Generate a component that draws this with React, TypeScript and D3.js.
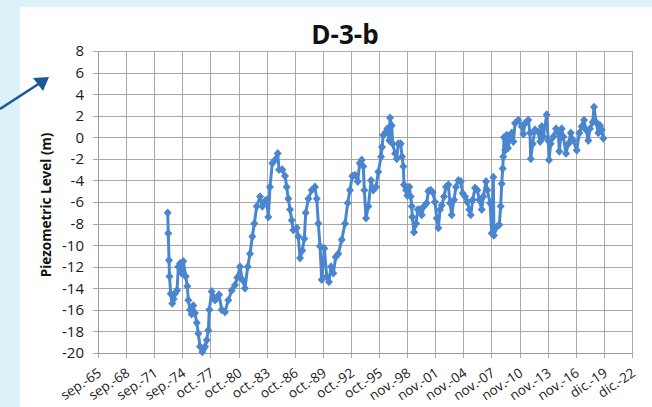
import React from 'react'
import * as d3 from 'd3'

// dates as decimal years, levels in m
const years = [
  1973.14, 1973.20, 1973.28, 1973.33, 1973.46, 1973.63, 1973.78, 1973.92, 1974.14, 1974.28,
  1974.46, 1974.64, 1974.81, 1975.07, 1975.24, 1975.35, 1975.53, 1975.70, 1975.88, 1976.06,
  1976.25, 1976.42, 1976.60, 1976.85, 1977.00, 1977.14, 1977.32, 1977.49, 1977.60, 1977.85,
  1978.03, 1978.21, 1978.43, 1978.64, 1978.93, 1979.28, 1979.63, 1980.00, 1980.35, 1980.60,
  1980.89, 1981.13, 1981.42, 1981.71, 1981.96, 1982.21, 1982.42, 1982.68, 1983.03, 1983.28,
  1983.57, 1983.75, 1983.92, 1984.10, 1984.35, 1984.64, 1984.93, 1985.07, 1985.42, 1985.71,
  1985.89, 1986.06, 1986.25, 1986.43, 1986.60, 1986.96, 1987.13, 1987.32, 1987.56, 1987.78,
  1987.93, 1988.21, 1988.57, 1988.92, 1989.11, 1989.28, 1989.46, 1989.64, 1989.92, 1990.18,
  1990.42, 1990.64, 1990.89, 1991.14, 1991.42, 1991.79, 1992.14, 1992.43, 1992.67, 1992.92,
  1993.21, 1993.50, 1993.71, 1993.93, 1994.10, 1994.21, 1994.39, 1994.64, 1994.93, 1995.17,
  1995.46, 1995.71, 1996.00, 1996.10, 1996.24, 1996.53, 1996.67, 1996.89, 1996.96, 1997.14,
  1997.25, 1997.50, 1997.68, 1997.85, 1998.11, 1998.25, 1998.39, 1998.46, 1998.68, 1998.82,
  1999.03, 1999.18, 1999.29, 1999.35, 1999.53, 1999.75, 1999.93, 2000.18, 2000.36, 2000.60,
  2000.89, 2001.07, 2001.32, 2001.54, 2001.78, 2001.97, 2002.14, 2002.32, 2002.50, 2002.75,
  2002.96, 2003.21, 2003.39, 2003.57, 2003.82, 2004.03, 2004.28, 2004.54, 2004.75, 2005.00,
  2005.24, 2005.46, 2005.61, 2005.82, 2006.07, 2006.32, 2006.53, 2006.79, 2006.96, 2007.25,
  2007.39, 2007.68, 2007.86, 2008.03, 2008.10, 2008.40, 2008.67, 2008.82, 2008.93, 2009.04,
  2009.10, 2009.18, 2009.30, 2009.47, 2009.60, 2009.75, 2010.00, 2010.18, 2010.36, 2010.71,
  2011.07, 2011.25, 2011.43, 2011.78, 2011.96, 2012.04, 2012.25, 2012.50, 2012.85, 2013.05,
  2013.22, 2013.39, 2013.75, 2013.92, 2014.00, 2014.18, 2014.46, 2014.75, 2015.00, 2015.10,
  2015.36, 2015.53, 2015.82, 2016.07, 2016.33, 2016.60, 2016.97, 2017.25, 2017.50, 2017.75,
  2017.96, 2018.21, 2018.39, 2018.68, 2018.82, 2019.04, 2019.28, 2019.46, 2019.65, 2019.82,
]

const levels = [
  -7.0, -8.9, -11.4, -12.9, -14.5, -15.4, -15.0, -14.5, -14.2, -12.0,
  -11.7, -12.6, -11.5, -12.9, -13.8, -15.1, -16.0, -16.4, -15.6, -16.3,
  -17.2, -18.2, -19.4, -19.9, -19.6, -19.4, -18.8, -17.9, -16.0, -14.3,
  -14.8, -15.1, -14.9, -14.6, -16.0, -16.2, -15.1, -14.2, -13.7, -13.0,
  -12.0, -13.2, -14.0, -12.0, -10.8, -9.2, -8.0, -6.4, -5.5, -6.4,
  -5.9, -5.8, -7.4, -4.6, -2.4, -2.1, -1.5, -3.0, -3.0, -3.6,
  -4.6, -5.7, -6.7, -7.7, -8.6, -8.4, -9.2, -11.2, -10.5, -9.4,
  -7.0, -5.7, -4.9, -4.6, -5.7, -8.0, -10.1, -13.2, -10.3, -12.9,
  -13.4, -12.0, -12.6, -11.1, -10.8, -9.5, -8.0, -6.1, -4.9, -3.6,
  -3.5, -4.1, -2.4, -2.1, -2.7, -4.9, -7.5, -6.4, -4.0, -4.9,
  -4.6, -3.2, -1.8, -0.9, 0.2, 0.5, 0.8, -0.3, 1.8, 1.1,
  -0.6, -1.5, -2.0, -0.6, -0.6, -1.8, -2.7, -4.4, -4.9, -5.4,
  -4.6, -5.5, -6.4, -7.4, -8.8, -8.0, -6.7, -6.7, -7.2, -6.4,
  -6.1, -5.0, -4.9, -5.1, -6.0, -7.5, -8.4, -6.7, -6.3, -5.5,
  -4.6, -4.4, -6.1, -7.2, -5.8, -4.6, -4.0, -4.1, -5.2, -5.5,
  -6.0, -6.7, -7.2, -5.8, -4.7, -4.9, -5.8, -6.7, -5.5, -4.1,
  -4.9, -6.1, -8.9, -3.7, -9.1, -8.3, -8.1, -6.4, -4.3, -2.9,
  -1.8, 0.0, -1.2, 0.2, -1.0, -0.3, 0.4, -0.4, 1.3, 1.6,
  1.0, 0.3, 1.3, 1.6, 0.4, -2.0, -0.6, 0.7, 0.5, -0.4,
  1.0, 0.05, 2.1, -0.3, -2.1, -0.6, 0.05, 0.8, 0.4, -1.3,
  0.8, 0.05, -1.5, -0.6, 0.4, -0.3, -1.2, 0.4, 1.0, 1.6,
  0.7, -0.3, 0.8, 1.4, 2.8, 1.4, 0.4, 1.1, 0.7, -0.1,
]

const xTickLabels = [
  'sep.-65', 'sep.-68', 'sep.-71', 'sep.-74', 'oct.-77', 'oct.-80', 'oct.-83',
  'oct.-86', 'oct.-89', 'oct.-92', 'oct.-95', 'nov.-98', 'nov.-01', 'nov.-04',
  'nov.-07', 'nov.-10', 'nov.-13', 'nov.-16', 'dic.-19', 'dic.-22',
]
const yTicks = [8, 6, 4, 2, 0, -2, -4, -6, -8, -10, -12, -14, -16, -18, -20]

const startYear = 1965.67
const tickStep = 1100 / 365.25 // axis major unit of 1100 days

const W = 652
const H = 407
const plot = {left: 98, right: 632, top: 51, bottom: 353}
const lineColor = '#4a86cf'
const font = "'Open Sans', sans-serif"

export default function App() {
  const xScale = d3.scaleLinear()
    .domain([startYear, startYear + tickStep * (xTickLabels.length - 1)])
    .range([plot.left, plot.right])
  const yScale = d3.scaleLinear()
    .domain([-20, 8])
    .range([plot.bottom, plot.top])

  const points = years.map((yr, i) => [xScale(yr), yScale(levels[i])] as [number, number])
  const line = d3.line()(points)
  const diamond = 'M0,-4.4L4,0L0,4.4L-4,0Z'

  return (
    <svg width={W} height={H} style={{position: 'absolute', left: 0, top: 0}}>
      <rect x={0} y={0} width={W} height={H} fill="#daf2f8" />
      <rect x={20} y={7} width={W - 20} height={H - 7} fill="#ffffff" />

      {/* grid */}
      <g stroke="#a8a8a8" strokeWidth={1}>
        {yTicks.map(t => (
          <line key={'gy' + t} x1={plot.left - 5} x2={plot.right} y1={Math.round(yScale(t)) + 0.5} y2={Math.round(yScale(t)) + 0.5} />
        ))}
        {xTickLabels.map((_, i) => {
          const x = Math.round(xScale(startYear + i * tickStep)) + 0.5
          return <line key={'gx' + i} x1={x} x2={x} y1={plot.top} y2={plot.bottom + 5} />
        })}
      </g>
      <line x1={plot.left + 0.5} x2={plot.left + 0.5} y1={plot.top} y2={plot.bottom} stroke="#999" />
      <line x1={plot.left} x2={plot.right} y1={plot.bottom + 0.5} y2={plot.bottom + 0.5} stroke="#999" />

      {/* y tick labels */}
      <g fontFamily={font} fontSize={15} fill="#1a1a1a" textAnchor="end">
        {yTicks.map(t => (
          <text key={'ty' + t} x={84} y={yScale(t)} dy="0.36em">{t}</text>
        ))}
      </g>

      {/* x tick labels */}
      <g fontFamily={font} fontSize={13.5} fill="#1a1a1a" textAnchor="end">
        {xTickLabels.map((lab, i) => {
          const x = xScale(startYear + i * tickStep)
          return (
            <text key={'tx' + i} transform={`translate(${x - 1},${367}) rotate(-34)`} dy="0.72em">{lab}</text>
          )
        })}
      </g>

      <text x={345} y={44} textAnchor="middle" fontFamily={font} fontWeight="bold" fontSize={26} fill="#111">D-3-b</text>
      <text transform="translate(51,205) rotate(-90)" textAnchor="middle" fontFamily={font} fontWeight="bold" fontSize={13.5} fill="#111">Piezometric Level (m)</text>

      {/* series */}
      <path d={line ?? ''} fill="none" stroke={lineColor} strokeWidth={3} strokeLinejoin="round" />
      <g fill={lineColor}>
        {points.map((p, i) => (
          <path key={'m' + i} d={diamond} transform={`translate(${p[0]},${p[1]})`} />
        ))}
      </g>

      {/* arrow */}
      <line x1={0} y1={109} x2={40} y2={83} stroke="#1a5796" strokeWidth={2.5} />
      <path d="M49,77 L33,78 L43,91 Z" fill="#1a5796" />
    </svg>
  )
}
